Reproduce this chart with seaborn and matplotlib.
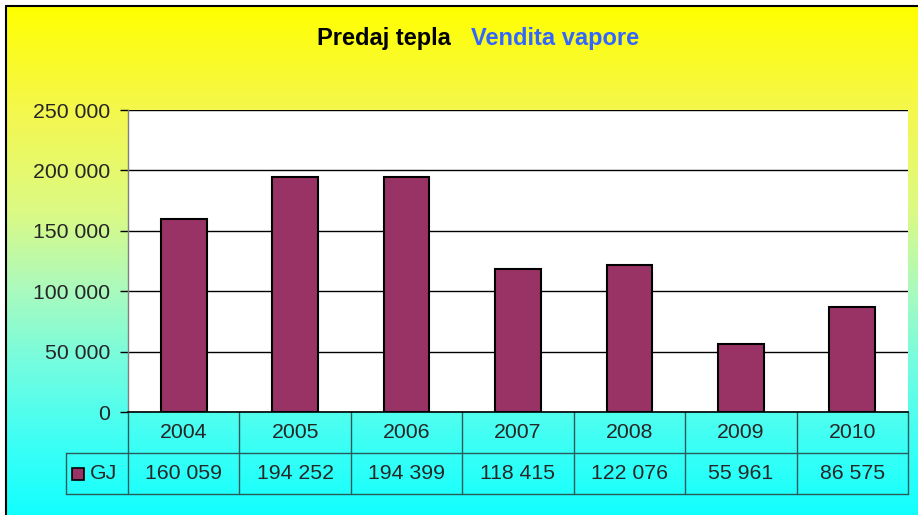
import numpy as np
import pandas as pd
import matplotlib
matplotlib.use('Agg')
import matplotlib.pyplot as plt
import seaborn as sns
from matplotlib.colors import LinearSegmentedColormap
from matplotlib.patches import Rectangle

# Data
years = ['2004', '2005', '2006', '2007', '2008', '2009', '2010']
values = [160059, 194252, 194399, 118415, 122076, 55961, 86575]
series_name = 'GJ'
y_ticks = [0, 50000, 100000, 150000, 200000, 250000]

def fmt(v):
    return f'{v:,}'.replace(',', ' ')

sns.set_style('white')
plt.rcParams['font.family'] = ['Liberation Sans', 'DejaVu Sans']

W, H = 918, 515
fig = plt.figure(figsize=(W / 100, H / 100), dpi=100)

# gradient background (yellow -> cyan)
bg = fig.add_axes([0, 0, 1, 1], zorder=-1)
bg.set_xlim(0, W)
bg.set_ylim(H, 0)
bg.axis('off')
grad_cmap = LinearSegmentedColormap.from_list('yc', [
    (0.0, (1.0, 1.0, 0.0)),
    (0.2, (0.96, 0.97, 0.30)),
    (0.4, (0.86, 0.98, 0.52)),
    (0.55, (0.67, 0.98, 0.74)),
    (0.7, (0.45, 0.99, 0.88)),
    (0.85, (0.24, 1.0, 0.96)),
    (1.0, (0.06, 1.0, 1.0)),
])
grad = np.linspace(0, 1, 256).reshape(-1, 1)
bg.imshow(grad, cmap=grad_cmap, aspect='auto', extent=[6, W + 5, H + 5, 6])
bg.plot([6, 6], [6, H + 5], color='black', lw=1.5)
bg.plot([6, W + 5], [6, 6], color='black', lw=1.5)

# title
fig.text(451 / W, 1 - 38 / H, 'Predaj tepla', ha='right', va='center',
         fontsize=17, fontweight='bold', color='black')
fig.text(471 / W, 1 - 38 / H, 'Vendita vapore', ha='left', va='center',
         fontsize=17, fontweight='bold', color='#3366ff')

# main plot
ax = fig.add_axes([128 / W, 1 - 412 / H, 780 / W, 302 / H])
df = pd.DataFrame({'year': years, series_name: values})
sns.barplot(data=df, x='year', y=series_name, color='#993366', saturation=1,
            width=0.41, edgecolor='black', linewidth=1.5, ax=ax)
ax.set_facecolor('white')
ax.set_xlim(-0.5, len(years) - 0.5)
ax.set_ylim(0, 250000)
ax.set_yticks(y_ticks)
ax.set_yticklabels([fmt(t) for t in y_ticks], fontsize=15.3)
ax.yaxis.grid(True, color='black', lw=1)
ax.set_axisbelow(True)
ax.set_xlabel('')
ax.set_ylabel('')
ax.set_xticks([])
ax.tick_params(axis='y', direction='out', length=6, width=1, color='black', pad=7, left=True)
for s in ['top', 'right']:
    ax.spines[s].set_visible(False)
ax.spines['left'].set_color('#7f7f7f')
ax.spines['left'].set_linewidth(1)
ax.spines['bottom'].set_color('black')
ax.spines['bottom'].set_linewidth(1.2)

# data table below the axis
n = len(years)
row_h = 41 / 302
gj_left = (66 - 128) / 780
line_c = '#2a5a5a'
kw = dict(transform=ax.transAxes, clip_on=False, color=line_c, lw=1)
ax.plot([0, 0], [0, -row_h], **kw)
ax.plot([gj_left, 1], [-row_h, -row_h], **kw)
ax.plot([gj_left, 1], [-2 * row_h, -2 * row_h], **kw)
ax.plot([gj_left, gj_left], [-row_h, -2 * row_h], **kw)
ax.plot([0, 0], [-row_h, -2 * row_h], **kw)
for k in range(1, n + 1):
    ax.plot([k / n, k / n], [0, -2 * row_h], **kw)

for i, (yr, v) in enumerate(zip(years, values)):
    xc = (i + 0.5) / n
    ax.text(xc, -0.5 * row_h, yr, transform=ax.transAxes, ha='center',
            va='center', fontsize=15.3)
    ax.text(xc, -1.5 * row_h, fmt(v), transform=ax.transAxes, ha='center',
            va='center', fontsize=15.3)

ax.add_patch(Rectangle(((72 - 128) / 780, -1.5 * row_h - 6 / 302), 12 / 780, 12 / 302,
                       transform=ax.transAxes, clip_on=False,
                       facecolor='#993366', edgecolor='black', lw=1.2))
ax.text((90 - 128) / 780, -1.5 * row_h, series_name, transform=ax.transAxes,
        ha='left', va='center', fontsize=15.3)

fig.savefig('out.png', dpi=100)
